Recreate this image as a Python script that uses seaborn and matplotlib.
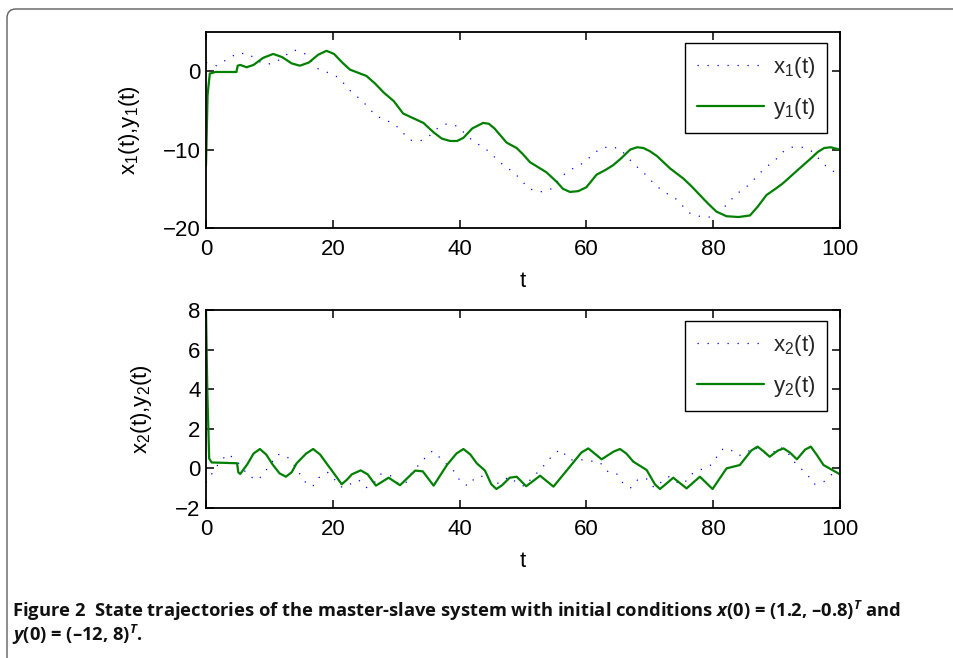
import matplotlib
matplotlib.use("Agg")
import matplotlib.pyplot as plt
import matplotlib.transforms as mtransforms
from matplotlib.patches import FancyBboxPatch
import numpy as np
import pandas as pd
import seaborn as sns

# ---------------- data ----------------
t_y1 = [0, 0.25, 0.6, 1.5, 4.8, 5.0, 5.4, 6.4, 7.5, 9, 10.6, 12, 13.5, 14.8, 16.2, 17.7, 19, 20.2,
        21.5, 22.7, 24, 25.3, 26.7, 28, 29.6, 31.1, 32.7, 34.3, 35.9, 37.2, 38.5, 39.6, 40.6, 42,
        43.7, 44.6, 45.5, 47.4, 49, 50, 51.1, 52.5, 53.7, 55.3, 56.3, 57.4, 58.7, 60, 61.6, 63,
        64.2, 65.5, 66.9, 68, 69, 70, 71.1, 73.2, 75.3, 76.6, 77.9, 79.2, 80.5, 82.1, 84, 85.8,
        87, 88.4, 90, 91, 93.2, 95.3, 96.5, 97.5, 98.5, 100]
y1 = [-12, -3, -0.3, -0.1, -0.1, 0.7, 0.8, 0.5, 0.8, 1.7, 2.2, 1.8, 1.0, 0.7, 1.1, 2.1, 2.6, 2.2,
      1.1, 0.2, -0.2, -0.6, -1.6, -2.7, -3.8, -5.4, -6.0, -6.6, -7.8, -8.6, -8.9, -8.9, -8.5, -7.3,
      -6.6, -6.7, -7.3, -9.1, -9.8, -10.6, -11.6, -12.3, -12.9, -14.1, -15.0, -15.4, -15.3, -14.8, -13.2, -12.6,
      -12.0, -11.1, -10.0, -9.7, -9.8, -10.2, -10.8, -12.4, -13.7, -14.7, -15.8, -16.9, -17.9, -18.5, -18.6, -18.4,
      -17.3, -15.8, -14.9, -14.3, -12.7, -11.2, -10.3, -9.8, -9.7, -10.0]

t_x1 = [0, 1.7, 3.5, 5, 6.8, 8, 9.6, 11.1, 12.5, 13.9, 15.5, 17.7, 19.3, 20.9, 22, 23.1, 24.4, 25.6,
        26.8, 28.3, 29.8, 31, 32.2, 33.8, 35.3, 36.5, 38, 39.6, 42.1, 43.5, 44.9, 46, 47.3, 48.7,
        49.8, 51, 52.7, 54.3, 55.4, 56.6, 57.9, 59.5, 60.8, 62.1, 63.7, 65.3, 66.5, 67.7, 69, 70,
        71.3, 72.7, 74, 75.2, 76.3, 78.2, 79.8, 81.1, 82.4, 83.4, 84.7, 85.9, 87.1, 88.4, 89.7, 91,
        92.4, 94, 95.5, 96.7, 97.9, 99.4, 100]
x1 = [1.1, 0.7, 1.6, 2.3, 2.2, 1.35, 0.85, 1.2, 2.0, 2.7, 2.3, 0.3, -0.2, -0.8, -1.8, -2.8, -3.6, -4.6,
      -5.7, -6.2, -6.8, -7.8, -8.8, -8.9, -8.2, -7.3, -6.7, -7.0, -8.9, -9.6, -10.4, -11.4, -12.2, -13.0,
      -14.0, -15.0, -15.4, -15.1, -14.1, -13.1, -12.4, -11.7, -10.8, -9.9, -9.6, -9.9, -11.0, -12.0, -12.9, -13.8,
      -14.8, -15.6, -16.2, -17.2, -18.1, -18.6, -18.6, -17.7, -16.9, -15.8, -15.1, -14.3, -13.2, -12.2, -11.4, -10.3,
      -9.7, -9.7, -10.2, -11.2, -12.2, -13.0, -13.2]

t_y2 = [0, 0.2, 0.5, 0.9, 4.9, 5.1, 5.4, 6.5, 7.5, 8.5, 9.5, 10.5, 11.6, 12.6, 13.5, 14.3, 15.8, 16.9,
        18, 19, 20.4, 21.4, 22.3, 23, 24.4, 25.5, 26.8, 28.8, 30.6, 33, 34.2, 35.9, 38, 39.5, 40.6,
        41.7, 42.7, 44, 45, 45.8, 46.7, 47.9, 49, 50.5, 52.7, 54.8, 57.4, 59.2, 60.3, 61.3, 62.4, 64.3,
        65.3, 66.3, 67.4, 69.5, 70.8, 71.6, 72.5, 73.7, 75.8, 77.9, 79.9, 82.1, 84.2, 86, 87, 88,
        88.9, 90.2, 91.1, 92.1, 93.2, 94.5, 95.4, 96.3, 97.4, 100]
y2 = [8, 4, 0.5, 0.3, 0.26, -0.2, -0.28, 0.2, 0.75, 0.98, 0.7, 0.2, -0.25, -0.42, -0.2, 0.26, 0.75, 0.98,
      0.7, 0.26, -0.35, -0.8, -0.55, -0.3, -0.1, -0.3, -0.87, -0.47, -0.85, -0.11, -0.15, -0.87, 0.17, 0.75, 0.98,
      0.7, 0.26, -0.11, -0.8, -1.04, -0.85, -0.47, -0.42, -0.9, -0.37, -0.92, 0.09, 0.8, 1.01, 0.75, 0.46, 0.85,
      0.98, 0.75, 0.34, -0.08, -0.8, -1.04, -0.8, -0.47, -1.01, -0.42, -1.04, 0.0, 0.17, 0.9, 1.1, 0.85,
      0.59, 0.9, 1.01, 0.8, 0.46, 0.95, 1.1, 0.7, 0.17, -0.3]

t_x2 = [0, 0.9, 2.1, 3.4, 4.6, 5.7, 6.7, 8.2, 9.3, 11.3, 12.7, 13.8, 14.7, 15.7, 16.8, 17.8, 19.2, 21.5,
        22.7, 24.1, 25.3, 26.5, 27.6, 29.1, 30.3, 31.4, 32.3, 33.4, 34.5, 35.7, 36.9, 39.4, 40.2, 41.4,
        42.4, 44, 45.2, 46.5, 47.8, 49, 50.3, 51.4, 52.6, 53.7, 54.8, 55.9, 57.4, 58.7, 62.1, 63.5, 64.8,
        65.8, 67, 68.2, 69.5, 70.7, 71.9, 73, 74.4, 75.4, 76.5, 77.7, 79.5, 80.5, 81.6, 82.8, 84, 85.3,
        86.4, 88, 89.3, 90.3, 91.6, 92.5, 93.7, 95, 95.9, 97.3, 99.4, 100]
x2 = [-0.72, -0.28, 0.29, 0.73, 0.47, 0.04, -0.38, -0.59, -0.17, 0.71, 0.63, 0.21, -0.23, -0.7, -0.92, -0.47, -0.2, -0.97,
      -0.8, -0.59, -0.97, -0.74, -0.28, -0.37, -0.76, -0.8, -0.3, 0.12, 0.51, 0.88, 0.54, -0.23, -0.72, -0.89,
      -0.47, -0.37, -0.8, -0.72, -0.42, -0.72, -0.92, -0.47, -0.11, 0.29, 0.71, 0.96, 0.42, 0.46, 0.31, -0.2, -0.28,
      -0.76, -0.98, -0.53, -0.53, -0.98, -0.67, -0.42, -0.72, -0.76, -0.3, -0.11, 0.14, 0.56, 1.01, 0.93, 0.64, 0.79,
      1.1, 0.76, 0.73, 1.1, 0.88, 0.42, 0.04, -0.38, -0.8, -0.72, -0.1, 0.0]

x_ticks = [0, 20, 40, 60, 80, 100]
top_yticks = [-20, -10, 0]
bot_yticks = [-2, 0, 2, 4, 6, 8]

caption1 = ("Figure 2  State trajectories of the master-slave system with initial conditions "
            r"$\mathit{x}$(0) = (1.2, –0.8)${}^{\mathit{T}}$ and")
caption2 = r"$\mathit{y}$(0) = (–12, 8)${}^{\mathit{T}}$."

# ---------------- style ----------------
sns.set_theme(style="white")
plt.rcParams["font.family"] = ["Liberation Sans", "DejaVu Sans"]
plt.rcParams["mathtext.fontset"] = "custom"
plt.rcParams["mathtext.rm"] = "Open Sans:bold"
plt.rcParams["mathtext.it"] = "Open Sans:italic:bold"
plt.rcParams["mathtext.bf"] = "Open Sans:bold"

W, H = 954, 658
fig = plt.figure(figsize=(W / 100, H / 100), dpi=100)
fig.patch.set_facecolor("white")

# frame around figure (cropped on right / bottom)
frame = FancyBboxPatch((7, -100), 1100, 649 + 100,
                       boxstyle="round,pad=0,rounding_size=9",
                       transform=mtransforms.IdentityTransform(),
                       facecolor="none", edgecolor="#5f5f5f", linewidth=1.0)
fig.add_artist(frame)

ax1 = fig.add_axes([206 / W, 1 - 228 / H, 634 / W, 196 / H])
ax2 = fig.add_axes([206 / W, 1 - 508 / H, 634 / W, 198 / H])

blue_kw = dict(color="#0000ff", linewidth=0.9, estimator=None, sort=False)
green_kw = dict(color="#008000", linewidth=1.6, estimator=None, sort=False)

sns.lineplot(x=t_x1, y=x1, ax=ax1, label="x$_\\mathdefault{1}$(t)", linestyle=(0, (1, 7)), **blue_kw)
sns.lineplot(x=t_y1, y=y1, ax=ax1, label="y$_\\mathdefault{1}$(t)", **green_kw)
sns.lineplot(x=t_x2, y=x2, ax=ax2, label="x$_\\mathdefault{2}$(t)", linestyle=(0, (1, 7)), **blue_kw)
sns.lineplot(x=t_y2, y=y2, ax=ax2, label="y$_\\mathdefault{2}$(t)", **green_kw)

for ax, yl, yt, lab in [(ax1, (-20, 5), top_yticks, "x$_\\mathdefault{1}$(t),y$_\\mathdefault{1}$(t)"),
                        (ax2, (-2, 8), bot_yticks, "x$_\\mathdefault{2}$(t),y$_\\mathdefault{2}$(t)")]:
    ax.set_xlim(0, 100)
    ax.set_ylim(*yl)
    ax.set_xticks(x_ticks)
    ax.set_yticks(yt)
    ax.set_facecolor("white")
    for s in ax.spines.values():
        s.set_visible(True)
        s.set_color("black")
        s.set_linewidth(1.3)
    ax.tick_params(axis="both", direction="in", length=6, width=1.1, color="black",
                   bottom=True, top=True, left=True, right=True, labelsize=16, labelcolor="black")
    ax.tick_params(axis="x", pad=8)
    ax.tick_params(axis="y", pad=4)
    ax.set_xlabel("t", fontsize=16, color="black", labelpad=8)
    ax.set_ylabel(lab, fontsize=16, color="black", labelpad=15)
    leg = ax.legend(loc="upper right", bbox_to_anchor=(1 - 13 / 634, 1 - 11 / ax.bbox.height),
                    borderaxespad=0, frameon=True, fancybox=False, fontsize=16,
                    handlelength=3.0, handletextpad=0.4, labelspacing=0.7, borderpad=0.55)
    fr = leg.get_frame()
    fr.set_edgecolor("black")
    fr.set_linewidth(1.0)
    fr.set_facecolor("white")
    fr.set_alpha(1)

fig.text(12 / W, 1 - 617 / H, caption1, fontfamily="Open Sans", fontweight="bold",
         fontsize=13.2, va="baseline", ha="left", color="#111111")
fig.text(12 / W, 1 - 641 / H, caption2, fontfamily="Open Sans", fontweight="bold",
         fontsize=13.2, va="baseline", ha="left", color="#111111")

fig.savefig("out.png", dpi=100, facecolor="white")
